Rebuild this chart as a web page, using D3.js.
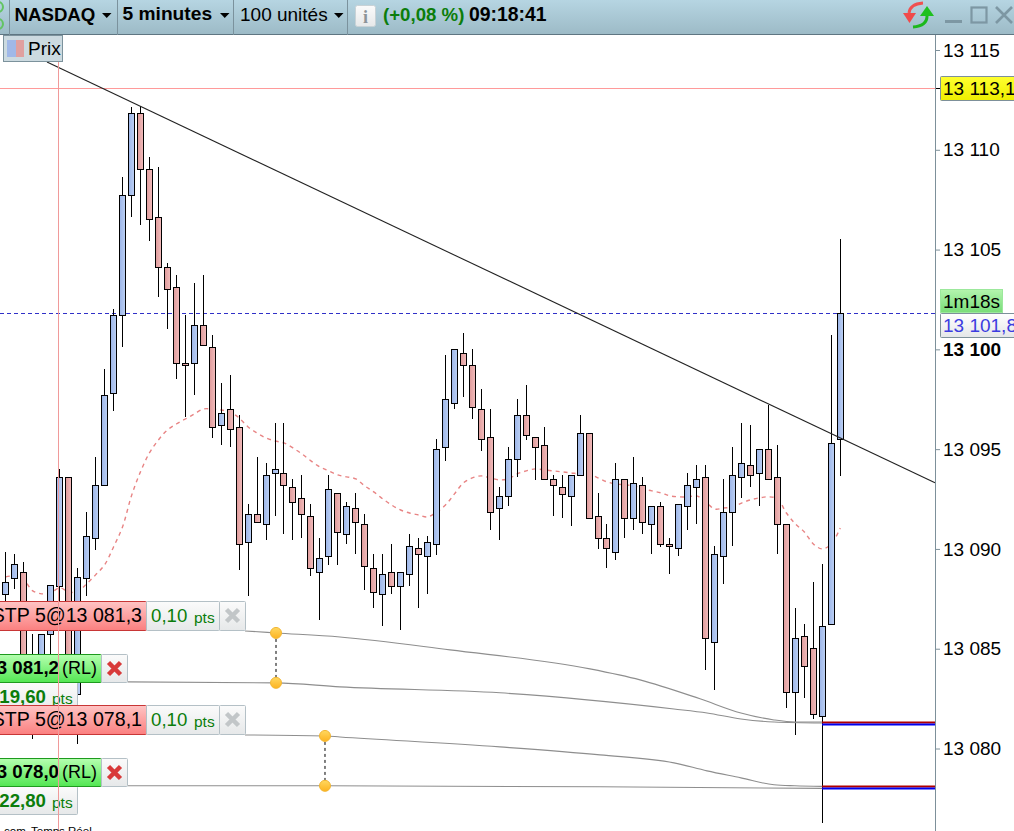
<!DOCTYPE html>
<html lang="fr">
<head>
    <meta charset="UTF-8">
    <title>NASDAQ 5 minutes</title>
    <script src="https://d3js.org/d3.v7.min.js"></script>
    <style>
        html, body { margin: 0; padding: 0; background: #fff; overflow: hidden; }
        svg { display: block; }
        text { font-family: "Liberation Sans", Arial, sans-serif; }
    </style>
</head>
<body>
    <div id="chart-container"></div>
    <script>
        // Candles, one entry per 5 minute bar
        const opens = [
            13087.75, 13088.55, 13088.85, 13084.44, 13084.44, 13085.74, 13088.15, 13093.61, 13082.74, 13088.55,
            13090.55, 13093.21, 13097.82, 13101.72, 13107.74, 13111.84, 13109.04, 13106.63, 13104.13, 13103.13,
            13099.32, 13099.32, 13101.22, 13100.12, 13096.21, 13097.01, 13096.11, 13090.35, 13091.75, 13091.25,
            13093.81, 13093.81, 13093.11, 13092.56, 13091.65, 13088.85, 13089.65, 13092.81, 13090.75, 13092.05,
            13091.25, 13089.05, 13087.75, 13088.85, 13088.15, 13088.75, 13090.05, 13089.65, 13090.25, 13095.11,
            13097.31, 13099.82, 13099.22, 13097.01, 13095.61, 13092.05, 13092.66, 13094.51, 13096.71, 13095.61,
            13095.21, 13093.51, 13093.11, 13092.66, 13093.71, 13095.81, 13091.65, 13090.55, 13089.85, 13093.51,
            13091.55, 13093.21, 13091.25, 13092.15, 13090.25, 13090.05, 13092.15, 13093.11, 13093.61, 13085.34,
            13089.65, 13091.85, 13093.61, 13094.21, 13093.81, 13095.01, 13093.61, 13091.25, 13082.84, 13085.64,
            13085.04, 13081.63, 13086.24, 13095.51
        ];
        const closes = [
            13088.35, 13089.25, 13084.64, 13083.44, 13085.74, 13088.20, 13093.61, 13083.44, 13088.60, 13090.65,
            13093.21, 13097.72, 13101.72, 13107.74, 13111.84, 13109.04, 13106.53, 13104.13, 13103.03, 13099.32,
            13099.22, 13101.22, 13100.22, 13096.11, 13096.81, 13096.01, 13090.25, 13091.75, 13091.35, 13093.71,
            13094.01, 13093.21, 13092.35, 13091.75, 13089.05, 13089.55, 13093.01, 13090.85, 13092.15, 13091.35,
            13089.15, 13087.85, 13088.75, 13088.15, 13088.85, 13090.15, 13089.75, 13090.35, 13095.01, 13097.52,
            13100.02, 13099.22, 13097.11, 13095.51, 13091.85, 13092.66, 13094.51, 13096.71, 13095.71, 13095.11,
            13093.51, 13093.21, 13092.76, 13093.71, 13095.81, 13091.55, 13090.55, 13090.05, 13093.51, 13091.55,
            13093.31, 13091.35, 13092.15, 13090.25, 13090.15, 13092.25, 13093.21, 13093.51, 13085.54, 13089.75,
            13091.85, 13093.71, 13094.31, 13093.71, 13095.01, 13093.51, 13091.25, 13082.84, 13085.54, 13084.14,
            13081.73, 13086.14, 13095.31, 13101.82
        ];
        const highs = [
            13089.85, 13089.75, 13089.35, 13085.74, 13085.74, 13088.20, 13094.01, 13093.61, 13089.05, 13091.85,
            13094.61, 13099.02, 13102.02, 13108.64, 13112.14, 13112.19, 13109.64, 13109.14, 13104.33, 13103.73,
            13101.72, 13103.33, 13103.73, 13100.72, 13098.32, 13098.72, 13096.71, 13092.25, 13094.61, 13094.31,
            13096.31, 13096.31, 13093.51, 13093.71, 13092.25, 13090.55, 13093.71, 13092.81, 13092.35, 13092.81,
            13091.75, 13089.75, 13089.75, 13090.25, 13088.85, 13090.75, 13090.55, 13090.65, 13095.51, 13099.72,
            13100.02, 13100.82, 13100.02, 13098.02, 13097.01, 13093.11, 13095.11, 13097.52, 13098.22, 13095.61,
            13096.11, 13093.71, 13093.71, 13093.71, 13096.71, 13095.81, 13092.81, 13091.25, 13094.31, 13093.51,
            13094.61, 13093.61, 13092.15, 13092.35, 13090.55, 13092.25, 13093.81, 13094.21, 13094.21, 13090.15,
            13093.51, 13095.11, 13096.31, 13096.21, 13095.01, 13097.21, 13095.21, 13091.25, 13087.04, 13086.24,
            13088.35, 13089.25, 13100.72, 13105.53
        ];
        const lows = [
            13087.45, 13088.05, 13083.94, 13080.53, 13083.94, 13084.44, 13087.45, 13082.94, 13080.28, 13087.70,
            13090.00, 13093.21, 13096.96, 13100.17, 13106.68, 13106.28, 13105.48, 13102.68, 13101.07, 13098.57,
            13096.66, 13097.77, 13100.22, 13095.61, 13095.26, 13095.16, 13089.00, 13087.70, 13091.35, 13090.50,
            13091.70, 13090.80, 13090.50, 13090.60, 13088.70, 13086.49, 13089.25, 13089.25, 13090.30, 13089.80,
            13088.00, 13087.09, 13086.19, 13087.80, 13085.99, 13088.20, 13087.09, 13087.80, 13089.75, 13094.45,
            13097.06, 13097.67, 13096.56, 13094.96, 13091.00, 13090.50, 13092.20, 13093.66, 13095.51, 13093.51,
            13093.51, 13091.70, 13091.60, 13091.20, 13093.71, 13091.55, 13090.05, 13089.10, 13089.50, 13090.60,
            13091.00, 13090.80, 13089.80, 13090.15, 13088.80, 13089.70, 13091.00, 13091.30, 13083.99, 13082.99,
            13088.30, 13090.20, 13092.61, 13093.16, 13092.20, 13093.51, 13089.80, 13082.08, 13080.73, 13082.59,
            13081.53, 13076.32, 13086.24, 13093.71
        ];
        // Moving average (dashed pink line), same bars as the candles
        const movingAverage = [
            13088.60, 13088.65, 13088.45, 13087.90, 13087.75, 13087.80, 13088.05, 13087.85, 13087.85, 13088.25,
            13088.70, 13089.20, 13090.10, 13091.10, 13092.66, 13093.86, 13094.81, 13095.46, 13095.96, 13096.26,
            13096.51, 13096.76, 13097.01, 13097.01, 13096.96, 13096.86, 13096.56, 13096.11, 13095.81, 13095.56,
            13095.41, 13095.31, 13095.06, 13094.76, 13094.41, 13094.11, 13093.91, 13093.71, 13093.61, 13093.51,
            13093.16, 13092.86, 13092.51, 13092.20, 13091.95, 13091.80, 13091.70, 13091.60, 13091.85, 13092.20,
            13092.76, 13093.31, 13093.56, 13093.66, 13093.56, 13093.46, 13093.51, 13093.76, 13093.91, 13094.01,
            13093.96, 13093.91, 13093.86, 13093.81, 13093.76, 13093.76, 13093.56, 13093.36, 13093.26, 13093.21,
            13093.16, 13093.01, 13092.91, 13092.81, 13092.66, 13092.61, 13092.61, 13092.66, 13092.35, 13092.00,
            13092.05, 13092.10, 13092.30, 13092.46, 13092.56, 13092.61, 13092.51, 13091.80, 13091.25, 13090.85,
            13090.25, 13090.00, 13090.25, 13091.05
        ];

        // Axis
        const priceTicks = [13115, 13110, 13105, 13100, 13095, 13090, 13085, 13080];
        const boldTick = 13100;

        // Drawn trend line, bar position and price of its two ends
        const trendBars = [4.585, 103.56];
        const trendPrices = [13114.40, 13093.31];

        // Levels
        const alertPrice = 13113.1;
        const lastPrice = 13101.8;
        const cursorBar = 5.92;
        const orderPrices = [13081.3, 13081.2, 13078.1, 13078.0];
        const orderLineFromBar = 90.97;

        // Order link curves (bar position, price)
        const stop1Bars = [26.65, 30.11, 37.24, 49.5, 65.1, 70.68, 77.37, 81.93, 85.62, 87.95, 90.97];
        const stop1Prices = [13085.89, 13085.79, 13085.59, 13084.94, 13083.99, 13083.44, 13082.49, 13081.78, 13081.43, 13081.33, 13081.33];
        const limit1Bars = [13.58, 30.11, 37.24, 55.07, 74.47, 78.15, 81.93, 85.62, 90.97];
        const limit1Prices = [13083.34, 13083.29, 13083.09, 13082.79, 13081.98, 13081.78, 13081.48, 13081.33, 13081.28];
        const stop2Bars = [26.65, 35.57, 37.24, 55.07, 66.22, 74.47, 78.15, 81.93, 85.62, 87.95, 90.97];
        const stop2Prices = [13080.68, 13080.63, 13080.58, 13080.08, 13079.68, 13079.28, 13078.88, 13078.53, 13078.18, 13078.13, 13078.10];
        const limit2Bars = [13.58, 35.57, 66.22, 90.97];
        const limit2Prices = [13078.13, 13078.13, 13078.08, 13078.00];

        // Handles on the curves
        const handleBars = [30.11, 30.11, 35.57, 35.57];
        const handlePrices = [13085.79, 13083.29, 13080.63, 13078.13];

        const width = 1014;
        const height = 831;
        const axisX = 936;
        const toolbarH = 35;
        const fontSize = "18.67px";
        const axisFontSize = "19px";

        const svg = d3.select("#chart-container")
            .append("svg")
            .attr("width", width)
            .attr("height", height);

        const defs = svg.append("defs");
        function gradient(id, c1, c2, horizontal) {
            const g = defs.append("linearGradient").attr("id", id)
                .attr("x1", 0).attr("y1", 0)
                .attr("x2", horizontal ? 1 : 0).attr("y2", horizontal ? 0 : 1);
            g.append("stop").attr("offset", "0%").attr("stop-color", c1);
            g.append("stop").attr("offset", "100%").attr("stop-color", c2);
        }
        gradient("bar-up", "#9cb5e8", "#bcd0f4", true);
        gradient("bar-down", "#de9a9a", "#f2bcbc", true);
        gradient("toolbar", "#b6d5e2", "#9cbac6");
        gradient("stop-box", "#ffc4c4", "#fb7f7f");
        gradient("limit-box", "#b6ffb0", "#52e652");
        gradient("grey-box", "#fbfbfb", "#e6e8e9");
        gradient("timer", "#b4f5ae", "#78dc78");
        gradient("yellow", "#ffff30", "#eeee00");
        gradient("price-box", "#ffffff", "#e4e6e8");
        gradient("handle", "#ffd860", "#fdb320");

        // Scales. Bars sit on whole pixels, the step is a bit under 9 px
        const xScale = d3.scaleLinear().domain([0, 93]).range([5.86, 840.26]);
        const yScale = d3.scaleLinear().domain([13115, 13080]).range([50, 748.5]);
        const barX = i => Math.floor(xScale(i)) + 0.5;
        const rowY = p => Math.round(yScale(p)) + 0.5;

        const bars = d3.range(opens.length);

        // Alert line and countdown level under the candles
        svg.append("line")
            .attr("x1", 0).attr("x2", axisX)
            .attr("y1", rowY(alertPrice)).attr("y2", rowY(alertPrice))
            .attr("stroke", "#ff9a9a");
        svg.append("line")
            .attr("x1", 0).attr("x2", axisX + 4)
            .attr("y1", rowY(lastPrice)).attr("y2", rowY(lastPrice))
            .attr("stroke", "#3030c8")
            .attr("stroke-dasharray", "4,3");

        // Moving average
        const maLine = d3.line()
            .x((d, i) => xScale(i))
            .y(d => yScale(d))
            .curve(d3.curveCatmullRom);
        svg.append("path")
            .attr("d", maLine(movingAverage))
            .attr("fill", "none")
            .attr("stroke", "#e88484")
            .attr("stroke-width", 1.4)
            .attr("stroke-dasharray", "4,4");

        // Wicks
        svg.selectAll("line.wick")
            .data(bars)
            .enter()
            .append("line")
            .attr("class", "wick")
            .attr("x1", barX).attr("x2", barX)
            .attr("y1", i => Math.round(yScale(highs[i])))
            .attr("y2", i => Math.round(yScale(lows[i])) + 1)
            .attr("stroke", "#000");

        // Bodies
        svg.selectAll("rect.body")
            .data(bars)
            .enter()
            .append("rect")
            .attr("class", "body")
            .attr("x", i => barX(i) - 3)
            .attr("width", 6)
            .attr("y", i => rowY(Math.max(opens[i], closes[i])))
            .attr("height", i => rowY(Math.min(opens[i], closes[i])) - rowY(Math.max(opens[i], closes[i])))
            .attr("fill", i => closes[i] >= opens[i] ? "url(#bar-up)" : "url(#bar-down)")
            .attr("stroke", "#000");

        // Trend line
        const trendLine = d3.line().x((d, i) => xScale(trendBars[i])).y(d => yScale(d));
        svg.append("path")
            .attr("d", trendLine(trendPrices))
            .attr("fill", "none")
            .attr("stroke", "#222")
            .attr("stroke-width", 1.1);

        // Curves linking the order labels to the price levels
        function orderCurve(barsList, prices) {
            const l = d3.line().x((d, i) => xScale(barsList[i])).y(d => yScale(d)).curve(d3.curveMonotoneX);
            svg.append("path")
                .attr("d", l(prices))
                .attr("fill", "none")
                .attr("stroke", "#8e8e8e")
                .attr("stroke-width", 1.1);
        }
        orderCurve(stop1Bars, stop1Prices);
        orderCurve(limit1Bars, limit1Prices);
        orderCurve(stop2Bars, stop2Prices);
        orderCurve(limit2Bars, limit2Prices);

        // Dashed connectors between handles
        [[0, 1], [2, 3]].forEach(p => {
            svg.append("line")
                .attr("x1", xScale(handleBars[p[0]])).attr("x2", xScale(handleBars[p[1]]))
                .attr("y1", yScale(handlePrices[p[0]])).attr("y2", yScale(handlePrices[p[1]]))
                .attr("stroke", "#000")
                .attr("stroke-dasharray", "3,3");
        });
        svg.selectAll("circle.handle")
            .data(handleBars)
            .enter()
            .append("circle")
            .attr("class", "handle")
            .attr("cx", d => xScale(d))
            .attr("cy", (d, i) => yScale(handlePrices[i]))
            .attr("r", 5.5)
            .attr("fill", "url(#handle)")
            .attr("stroke", "#f2b632");

        // Red and blue order levels
        orderPrices.forEach((p, i) => {
            svg.append("line")
                .attr("x1", xScale(orderLineFromBar)).attr("x2", axisX - 1)
                .attr("y1", yScale(p)).attr("y2", yScale(p))
                .attr("stroke", i % 2 === 0 ? "#b00000" : "#0000f0")
                .attr("stroke-width", 2);
        });

        // Order labels
        function box(x, y, w, h, fill, stroke) {
            return svg.append("rect")
                .attr("x", x + 0.5).attr("y", y + 0.5)
                .attr("width", w).attr("height", h)
                .attr("rx", 1)
                .attr("fill", fill)
                .attr("stroke", stroke);
        }
        function cross(cx, cy, color) {
            svg.append("path")
                .attr("d", `M${cx - 6},${cy - 6}L${cx + 6},${cy + 6}M${cx + 6},${cy - 6}L${cx - 6},${cy + 6}`)
                .attr("stroke", color)
                .attr("stroke-width", 4.5);
        }
        function label(x, y, str, opts) {
            const o = opts || {};
            return svg.append("text")
                .attr("x", x).attr("y", y)
                .attr("text-anchor", o.anchor || "start")
                .attr("font-size", o.size || fontSize)
                .attr("font-weight", o.bold ? "bold" : "normal")
                .attr("fill", o.fill || "#000")
                .text(str);
        }

        function stopLabel(top, str) {
            box(-5, top, 151, 29, "url(#stop-box)", "#c83636");
            box(146, top, 73, 29, "url(#grey-box)", "#b4c0c6");
            box(219, top, 26, 29, "url(#grey-box)", "#b4c0c6");
            label(142, top + 21, str, { anchor: "end", size: "19.6px" });
            label(151, top + 21, "0,10", { fill: "#0b7d0b" });
            label(194, top + 22, "pts", { fill: "#0b7d0b", size: "15.5px" });
            cross(232.5, top + 14.5, "#c2c6c8");
        }
        function limitLabel(top, str, pts, subBottom) {
            box(-5, top + 28, 82, subBottom - top - 28, "url(#grey-box)", "#b4c0c6");
            label(46, top + 49, pts, { anchor: "end", bold: true, fill: "#0b7d0b" });
            label(52, top + 50, "pts", { fill: "#0b7d0b", size: "15.5px" });
            box(-5, top, 106, 28, "url(#limit-box)", "#1e9a1e");
            box(101, top, 26, 28, "url(#grey-box)", "#b4c0c6");
            label(59, top + 20, str, { anchor: "end", bold: true });
            label(62, top + 20, "(RL)", { size: "18px" });
            cross(114.5, top + 14.5, "#d83a3a");
        }
        limitLabel(654, "3 081,2", "19,60", 714);
        stopLabel(601, "STP 5@13 081,3");
        stopLabel(705, "STP 5@13 078,1");
        limitLabel(758, "3 078,0", "22,80", 814);

        // Crosshair cursor, over the labels
        svg.append("line")
            .attr("x1", Math.floor(xScale(cursorBar)) + 0.5).attr("x2", Math.floor(xScale(cursorBar)) + 0.5)
            .attr("y1", toolbarH).attr("y2", height)
            .attr("stroke", "#f09a9a");

        // Footer text, mostly cut by the window
        label(4, 835, "com", { size: "11.5px" });
        label(31, 835, "Temps Réel", { size: "11.5px" });

        // Price axis panel
        svg.append("rect")
            .attr("x", axisX).attr("y", toolbarH)
            .attr("width", width - axisX).attr("height", height - toolbarH)
            .attr("fill", "#fff");
        svg.append("line")
            .attr("x1", axisX - 0.5).attr("x2", axisX - 0.5)
            .attr("y1", toolbarH).attr("y2", height)
            .attr("stroke", "#7d909a");

        const yAxis = d3.axisRight(yScale)
            .tickValues(priceTicks)
            .tickSize(4)
            .tickPadding(3)
            .tickFormat(d => "13 " + String(d).slice(2));
        const axisG = svg.append("g")
            .attr("transform", `translate(${axisX}, 0)`)
            .call(yAxis);
        axisG.select(".domain").remove();
        axisG.selectAll(".tick line").attr("stroke", "#7d909a");
        axisG.selectAll(".tick text")
            .attr("font-family", "'Liberation Sans', Arial, sans-serif")
            .attr("font-size", axisFontSize)
            .attr("fill", "#000")
            .attr("font-weight", d => d === boldTick ? "bold" : "normal");

        // Boxes on the axis
        svg.append("line")
            .attr("x1", axisX).attr("x2", axisX + 4)
            .attr("y1", rowY(alertPrice)).attr("y2", rowY(alertPrice))
            .attr("stroke", "#000");
        box(940, 76, 80, 24, "url(#yellow)", "#7d909a");
        label(943, 95, "13 113,1", { size: axisFontSize });
        svg.append("rect")
            .attr("x", 940.5).attr("y", 289.5)
            .attr("width", 62).attr("height", 23)
            .attr("fill", "url(#timer)").attr("stroke", "#9ce89c");
        label(943, 308, "1m18s", { size: axisFontSize });
        box(940, 313, 80, 24, "url(#price-box)", "#7d909a");
        label(943, 332, "13 101,8", { fill: "#3c3ce0", size: axisFontSize });

        // Top bar
        svg.append("rect")
            .attr("width", width).attr("height", toolbarH)
            .attr("fill", "url(#toolbar)");
        svg.append("line")
            .attr("x1", 0).attr("x2", width)
            .attr("y1", toolbarH - 0.5).attr("y2", toolbarH - 0.5)
            .attr("stroke", "#5f7682");
        [9.5, 117.5, 233.5, 347.5].forEach(x => {
            svg.append("line")
                .attr("x1", x).attr("x2", x)
                .attr("y1", 0).attr("y2", toolbarH)
                .attr("stroke", "#7b929d");
        });

        // Bits of the green icon, cut off on the left
        svg.append("circle").attr("cx", -2).attr("cy", 7).attr("r", 5)
            .attr("fill", "none").attr("stroke", "#62c462").attr("stroke-width", 2);
        svg.append("circle").attr("cx", -2).attr("cy", 24).attr("r", 5)
            .attr("fill", "none").attr("stroke", "#62c462").attr("stroke-width", 2);

        function dropArrow(x) {
            svg.append("path")
                .attr("d", `M${x},13L${x + 9.5},13L${x + 4.75},18Z`)
                .attr("fill", "#000");
        }
        label(14.5, 21, "NASDAQ", { bold: true });
        dropArrow(102);
        label(122.5, 20, "5 minutes", { bold: true, size: "19.2px" });
        dropArrow(220);
        label(240, 21, "100 unités", { size: "19px" });
        dropArrow(334);

        svg.append("rect")
            .attr("x", 355.5).attr("y", 5.5)
            .attr("width", 20).attr("height", 21)
            .attr("rx", 2)
            .attr("fill", "url(#grey-box)").attr("stroke", "#c8d2d6");
        svg.append("text")
            .attr("x", 365.5).attr("y", 23)
            .attr("text-anchor", "middle")
            .attr("font-size", "18px")
            .attr("font-weight", "bold")
            .attr("fill", "#8c9498")
            .style("font-family", "'Liberation Serif', serif")
            .text("i");

        label(383, 21, "(+0,08 %)", { bold: true, fill: "#0b7d0b" });
        label(469, 21, "09:18:41", { bold: true, size: "19.4px" });

        // Refresh arrows
        svg.append("path").attr("d", "M909,13Q910,4 923,3").attr("fill", "none").attr("stroke", "#f05050").attr("stroke-width", 3);
        svg.append("path").attr("d", "M903,13L916,13L909.5,23Z").attr("fill", "#f04a4a");
        svg.append("path").attr("d", "M927,16Q927,26 913,27").attr("fill", "none").attr("stroke", "#1cb81c").attr("stroke-width", 3);
        svg.append("path").attr("d", "M920,16L934,16L927,6Z").attr("fill", "#1fc01f");

        // Window buttons
        svg.append("rect").attr("x", 945).attr("y", 20).attr("width", 17).attr("height", 3).attr("fill", "#7d97a3");
        svg.append("rect").attr("x", 971.5).attr("y", 7.5).attr("width", 15).attr("height", 15)
            .attr("fill", "none").attr("stroke", "#7d97a3").attr("stroke-width", 2.2);
        svg.append("path").attr("d", "M996,7L1012,23M1012,7L996,23")
            .attr("stroke", "#7d97a3").attr("stroke-width", 2.6);

        // Legend
        svg.append("rect")
            .attr("x", 3.5).attr("y", 35.5)
            .attr("width", 59).attr("height", 26)
            .attr("fill", "#ccdae0")
            .attr("stroke", "#7c929c");
        svg.append("rect").attr("x", 7).attr("y", 40).attr("width", 9).attr("height", 17).attr("fill", "#a0b8e8");
        svg.append("rect").attr("x", 16).attr("y", 40).attr("width", 8).attr("height", 17).attr("fill", "#e0a0a0");
        label(28, 55, "Prix", { size: "19px" });
    </script>
</body>
</html>
